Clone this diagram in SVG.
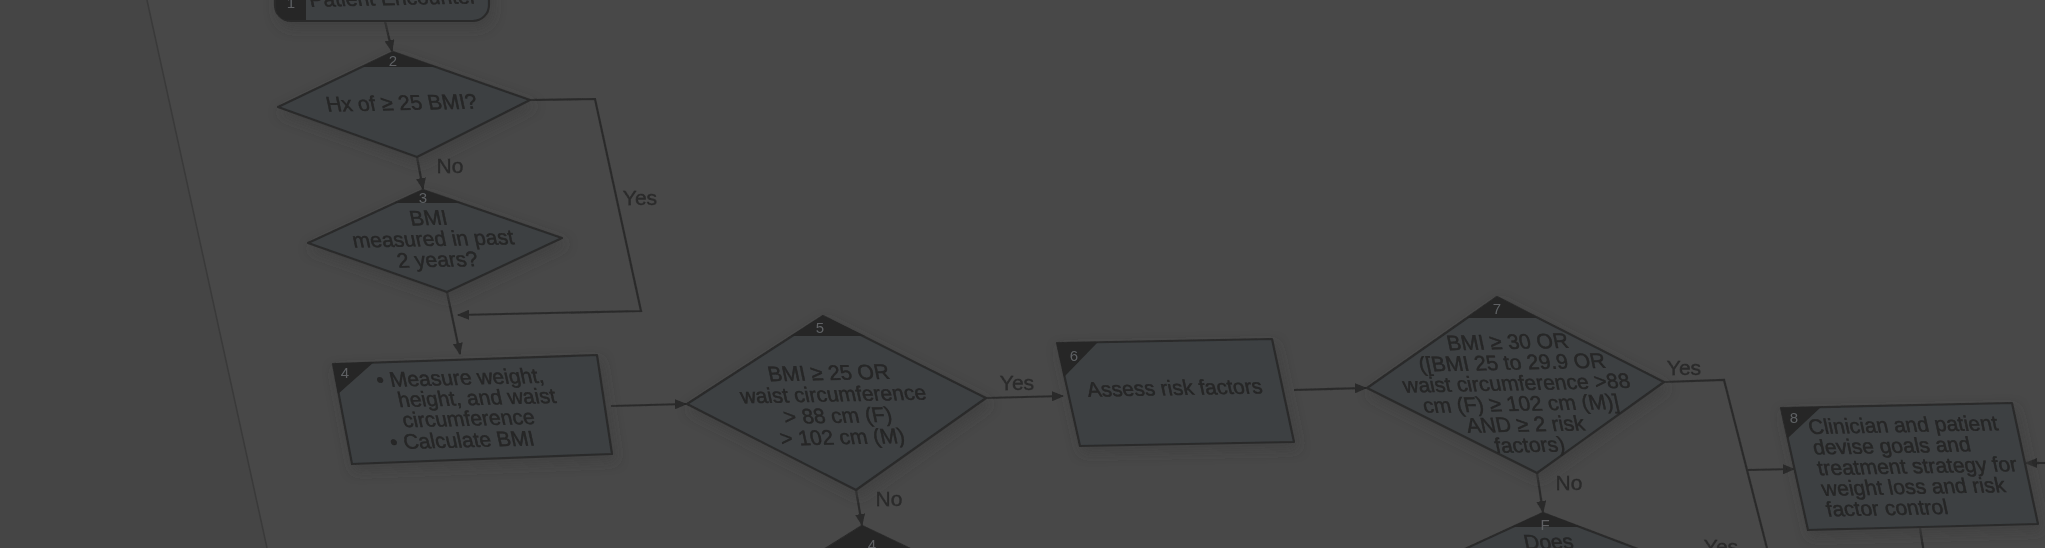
<svg xmlns="http://www.w3.org/2000/svg" width="2045" height="548" viewBox="0 0 2045 548">
<defs>
<style>
.node{fill:#3c4043;stroke:#2a2a2a;stroke-width:2.2;stroke-linejoin:round}
.badge{fill:#262626}
.num{font-family:"Liberation Sans",Arial,sans-serif;font-size:15px;fill:#5e6164;text-anchor:middle}
.t{font-family:"Liberation Sans",Arial,sans-serif;font-size:21px;fill:#262626;stroke:#262626;stroke-width:0.5}
.m{text-anchor:middle}
.lbl{font-family:"Liberation Sans",Arial,sans-serif;font-size:21px;fill:#2a2a2a;stroke:#2a2a2a;stroke-width:0.4;text-anchor:middle}
.c{fill:none;stroke:#2c2c2c;stroke-width:2.2}
</style>
<marker id="ah" viewBox="0 0 12 10" refX="11" refY="5" markerWidth="12" markerHeight="10" markerUnits="userSpaceOnUse" orient="auto">
<path d="M0,0 L12,5 L0,10 Z" fill="#2a2a2a"/>
</marker>
<filter id="soft" x="-5%" y="-5%" width="110%" height="110%">
<feGaussianBlur stdDeviation="0.6"/>
</filter>
<filter id="sh" x="-20%" y="-20%" width="140%" height="160%">
<feDropShadow dx="3" dy="6" stdDeviation="6" flood-color="#3a3a3a" flood-opacity="0.6"/>
</filter>
</defs>
<rect width="2045" height="548" fill="#484848"/>
<polygon points="0,0 147,0 267,548 0,548" fill="#454545"/>
<line x1="147" y1="0" x2="267" y2="548" stroke="#3a3a3a" stroke-width="1.5"/>

<g filter="url(#soft)">
<g id="connectors">
<path class="c" d="M385,21 L392,51" marker-end="url(#ah)"/>
<path class="c" d="M417,157 L423,189" marker-end="url(#ah)"/>
<path class="c" d="M530,100 L595,99 L641,311 L458,315" marker-end="url(#ah)"/>
<path class="c" d="M447,292 L460,354" marker-end="url(#ah)"/>
<path class="c" d="M611,406 L686,404" marker-end="url(#ah)"/>
<path class="c" d="M986,398 L1063,396" marker-end="url(#ah)"/>
<path class="c" d="M856,490 L862,525" marker-end="url(#ah)"/>
<path class="c" d="M1294,390 L1366,388" marker-end="url(#ah)"/>
<path class="c" d="M1664,382 L1724,380 L1770,560"/>
<path class="c" d="M1748,470 L1794,469" marker-end="url(#ah)"/>
<path class="c" d="M1537,473 L1543,512" marker-end="url(#ah)"/>
<path class="c" d="M2050,463 L2026,463" marker-end="url(#ah)"/>
<path class="c" d="M1920,528 L1925,560"/>
</g>

<g id="n1">
<rect class="node" x="275" y="-32" width="214" height="53" rx="16" filter="url(#sh)"/>
<path class="badge" d="M306,-31 L291,-31 Q276,-31 276,-15 L276,5 Q276,20 291,20 L306,20 Z"/>
<text class="num" x="291" y="8">1</text>
<text class="t m" transform="translate(394,5) rotate(-1.2) skewX(11)">Patient Encounter</text>
</g>

<g id="n2">
<polygon class="node" points="393,52 530,100 417,157 278,107" filter="url(#sh)"/>
<polygon class="badge" points="393,52 436,67 362,67"/>
<text class="num" x="393" y="66">2</text>
<text class="t m" transform="translate(403,110) rotate(-1.2) skewX(11)">Hx of ≥ 25 BMI?</text>
</g>

<g id="n3">
<polygon class="node" points="423,190 562,238 447,292 308,243" filter="url(#sh)"/>
<polygon class="badge" points="423,190 461,203 395,203"/>
<text class="num" x="423" y="203">3</text>
<text class="t m" transform="translate(430,225) rotate(-1.2) skewX(11)"><tspan x="0" y="0">BMI</tspan><tspan x="0" y="21">measured in past</tspan><tspan x="0" y="42">2 years?</tspan></text>
</g>

<g id="n4">
<polygon class="node" points="333,364 597,355 612,454 352,464" filter="url(#sh)"/>
<polygon class="badge" points="333,364 374,362 338,394"/>
<text class="num" x="345" y="378">4</text>
<text class="t" transform="translate(378,387) rotate(-1.5) skewX(11)"><tspan x="0" y="0">• Measure weight,</tspan><tspan x="17" y="20.5">height, and waist</tspan><tspan x="17" y="41">circumference</tspan><tspan x="0" y="62.5">• Calculate BMI</tspan></text>
</g>

<g id="n5">
<polygon class="node" points="823,316 986,398 856,490 687,404" filter="url(#sh)"/>
<polygon class="badge" points="823,316 865,336 791,336"/>
<text class="num" x="820" y="333">5</text>
<text class="t m" transform="translate(830,380) rotate(-1.2) skewX(11)"><tspan x="0" y="0">BMI ≥ 25 OR</tspan><tspan x="0" y="21.5">waist circumference</tspan><tspan x="0" y="43">&gt; 88 cm (F)</tspan><tspan x="0" y="64.5">&gt; 102 cm (M)</tspan></text>
</g>

<g id="n6">
<polygon class="node" points="1057,343 1272,339 1294,442 1080,446" filter="url(#sh)"/>
<polygon class="badge" points="1057,343 1098,342 1064,377"/>
<text class="num" x="1074" y="361">6</text>
<text class="t m" transform="translate(1176,395) rotate(-1.1) skewX(11)">Assess risk factors</text>
</g>

<g id="n7">
<polygon class="node" points="1497,297 1664,382 1537,473 1367,388" filter="url(#sh)"/>
<polygon class="badge" points="1497,297 1538,318 1467,318"/>
<text class="num" x="1497" y="314">7</text>
<text class="t m" transform="translate(1509,349) rotate(-1.2) skewX(11)"><tspan x="0" y="0">BMI ≥ 30 OR</tspan><tspan x="0" y="20.7">([BMI 25 to 29.9 OR</tspan><tspan x="0" y="41.4">waist circumference &gt;88</tspan><tspan x="0" y="62.1">cm (F) ≥ 102 cm (M)]</tspan><tspan x="0" y="82.8">AND ≥ 2 risk</tspan><tspan x="0" y="103.5">factors)</tspan></text>
</g>

<g id="n8">
<polygon class="node" points="1781,408 2012,403 2038,524 1808,530" filter="url(#sh)"/>
<polygon class="badge" points="1781,408 1821,407 1788,438"/>
<text class="num" x="1794" y="423">8</text>
<text class="t" transform="translate(1810,434) rotate(-1.2) skewX(11)"><tspan x="0" y="0">Clinician and patient</tspan><tspan x="0" y="20.7">devise goals and</tspan><tspan x="0" y="41.4">treatment strategy for</tspan><tspan x="0" y="62.1">weight loss and risk</tspan><tspan x="0" y="82.8">factor control</tspan></text>
</g>

<g id="n12">
<polygon class="node" points="862,526 967,576 862,640 782,576"/>
<polygon class="badge" points="862,526 910,549 826,549"/>
<text class="num" x="872" y="550">4</text>
</g>

<g id="n13">
<polygon class="node" points="1543,513 1680,565 1543,620 1430,565"/>
<polygon class="badge" points="1543,513 1581,527 1512,527"/>
<text class="num" x="1545" y="530">F</text>
<text class="t m" transform="translate(1550,549) rotate(-1.2) skewX(11)">Does</text>
</g>

<g id="labels">
<text class="lbl" x="450" y="173">No</text>
<text class="lbl" x="640" y="205">Yes</text>
<text class="lbl" x="1017" y="390">Yes</text>
<text class="lbl" x="889" y="506">No</text>
<text class="lbl" x="1684" y="375">Yes</text>
<text class="lbl" x="1569" y="490">No</text>
<text class="lbl" x="1721" y="554">Yes</text>
</g>
</g>
</svg>
